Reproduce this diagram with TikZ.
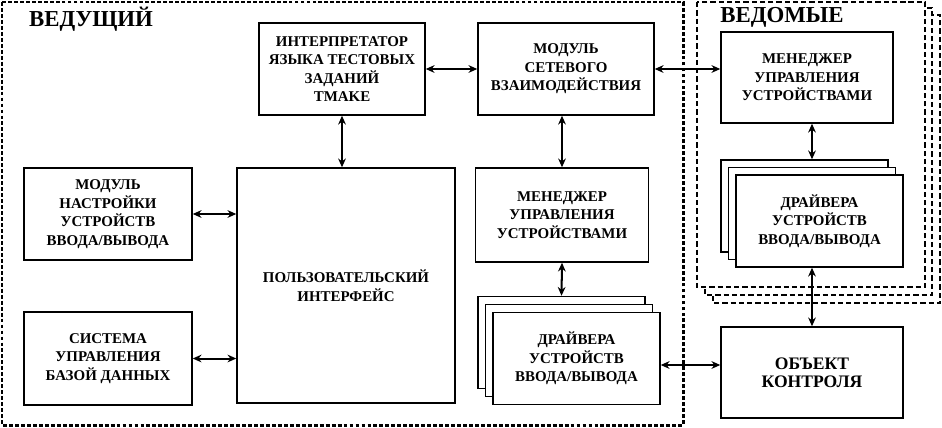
\documentclass[tikz,border=0pt]{standalone}
\usepackage{fontspec}
\setmainfont{Liberation Serif}
\usetikzlibrary{positioning,arrows.meta}

\begin{document}
\begin{tikzpicture}[x=0.02cm, y=-0.02cm,
  blk/.style={draw, line width=0.85pt, fill=white, align=center, inner sep=0pt,
    font=\bfseries\fontsize{8.5}{10.5}\selectfont},
  arr/.style={{Stealth[length=5pt,width=4.4pt]}-{Stealth[length=5pt,width=4.4pt]}, line width=1.15pt},
  masterframe/.style={line width=1.7pt, dash pattern=on 2.2pt off 1.2pt},
  slaveframe/.style={draw, fill=white, line width=0.75pt, dash pattern=on 3pt off 1.7pt},
  title/.style={inner sep=0pt, font=\bfseries\fontsize{13}{15}\selectfont}]
\def\bh{1.84cm}

\useasboundingbox (0,0) rectangle (942,427);

\draw[masterframe] (2,2) rectangle (683,425);
\draw[slaveframe] (713,15) rectangle (940,303);
\draw[slaveframe] (705,8) rectangle (932,295);
\draw[slaveframe] (697,2) rectangle (925,287);

\node[title] (lead) at (91,19.5) {ВЕДУЩИЙ};
\node[title] (led) at (782,17.5) {ВЕДОМЫЕ};

\node[blk, minimum width=3.32cm, minimum height=\bh] (interp) at (342,69)
  {ИНТЕРПРЕТАТОР\\ЯЗЫКА ТЕСТОВЫХ\\ЗАДАНИЙ\\TMAKE};
\node[blk, minimum width=3.52cm, minimum height=\bh] (net) at (566,69)
  {МОДУЛЬ\\СЕТЕВОГО\\ВЗАИМОДЕЙСТВИЯ};
\node[blk, minimum width=3.44cm, minimum height=1.82cm] (smgr) at (807,77.5)
  {МЕНЕДЖЕР\\УПРАВЛЕНИЯ\\УСТРОЙСТВАМИ};

\node[blk, minimum width=3.34cm, minimum height=\bh] (sdrvA) at (804.5,206) {};
\node[blk, minimum width=3.34cm, minimum height=\bh] (sdrvB) at (812,213.5) {};
\node[blk, minimum width=3.34cm, minimum height=\bh] (sdrv) at (819.5,221)
  {ДРАЙВЕРА\\УСТРОЙСТВ\\ВВОДА/ВЫВОДА};

\node[blk, minimum width=3.64cm, minimum height=1.82cm] (obj) at (812,372.5)
  {\fontsize{10}{12}\selectfont ОБЪЕКТ\\\fontsize{10}{12}\selectfont КОНТРОЛЯ};

\node[blk, minimum width=3.46cm, minimum height=1.88cm] (mmgr) at (562,215)
  {МЕНЕДЖЕР\\УПРАВЛЕНИЯ\\УСТРОЙСТВАМИ};

\node[blk, minimum width=3.34cm, minimum height=\bh] (mdrvA) at (561.5,342.5) {};
\node[blk, minimum width=3.34cm, minimum height=\bh] (mdrvB) at (569,350.5) {};
\node[blk, minimum width=3.34cm, minimum height=\bh] (mdrv) at (576.5,358.5)
  {ДРАЙВЕРА\\УСТРОЙСТВ\\ВВОДА/ВЫВОДА};

\node[blk, minimum width=4.36cm, minimum height=4.7cm] (ui) at (346,285.5)
  {ПОЛЬЗОВАТЕЛЬСКИЙ\\ИНТЕРФЕЙС};
\node[blk, minimum width=3.36cm, minimum height=\bh] (conf) at (108,214)
  {МОДУЛЬ\\НАСТРОЙКИ\\УСТРОЙСТВ\\ВВОДА/ВЫВОДА};
\node[blk, minimum width=3.36cm, minimum height=1.86cm] (dbms) at (108,358.5)
  {СИСТЕМА\\УПРАВЛЕНИЯ\\БАЗОЙ ДАННЫХ};

\draw[arr] (interp) -- (net);
\draw[arr] (net.east) -- (net.east -| smgr.west);
\draw[arr] (interp.south) -- (interp.south |- ui.north);
\draw[arr] (conf.east) -- (conf.east -| ui.west);
\draw[arr] (dbms.east) -- (dbms.east -| ui.west);
\draw[arr] (mmgr.north |- net.south) -- (mmgr.north);
\draw[arr] (mmgr.south) -- (mdrvA.north);
\draw[arr] ([yshift=-0.13cm]mdrv.east) -- ([yshift=-0.13cm]mdrv.east -| obj.west);
\draw[arr] (sdrvB.north |- smgr.south) -- (sdrvB.north |- sdrvA.north);
\draw[arr] (sdrv.south -| obj.north) -- (obj.north);

\end{tikzpicture}
\end{document}
